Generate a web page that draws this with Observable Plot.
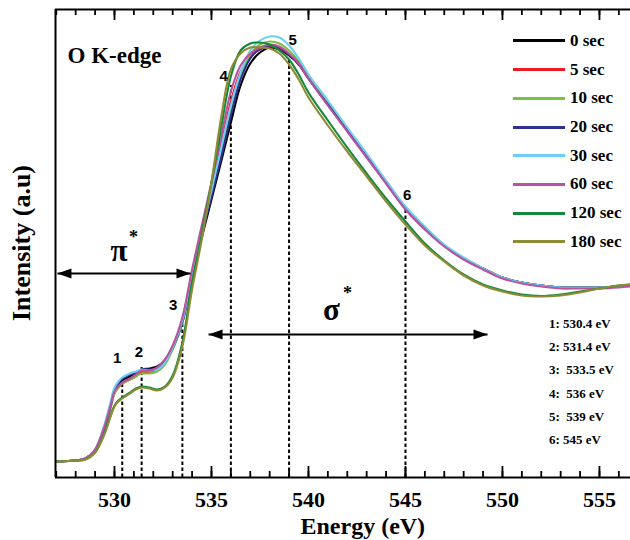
<!DOCTYPE html>
<html><head><meta charset="utf-8">
<script src="https://cdn.jsdelivr.net/npm/d3@7"></script>
<script src="https://cdn.jsdelivr.net/npm/@observablehq/plot@0.6"></script>
<style>
body{margin:0;background:#fff}
#wrap{position:relative;width:630px;height:540px;overflow:hidden;background:#fff}
.lg{position:absolute;font-family:"Liberation Serif","Times New Roman","DejaVu Serif","Noto Serif",serif;font-weight:bold;color:#000}
.lg .row{display:flex;align-items:center;white-space:pre}
</style></head><body><div id="wrap"></div><script>
// ---- data ----
const energies = [527, 528, 528.5, 529, 529.5, 529.8, 530, 530.2, 530.4, 530.8, 531.1, 531.4, 531.8, 532.2, 532.6, 533, 533.5, 534, 534.5, 535, 535.5, 536, 536.5, 537, 537.5, 538, 538.5, 539, 539.5, 540, 541, 542, 543, 544, 545, 546, 547, 548, 549, 550, 551, 552, 553, 554, 555, 556, 556.6];
const seriesNames = ["0 sec", "5 sec", "10 sec", "20 sec", "30 sec", "60 sec", "120 sec", "180 sec"];
const seriesColors = ["#000000", "#ed1c24", "#7ac143", "#2e3192", "#6dcff6", "#b9529f", "#13893d", "#8d8b33"];
const s0   = [16, 17, 19, 27, 51, 72, 87, 93, 97, 101, 104, 108, 109, 111, 117, 129, 155, 200, 240, 278, 316, 355, 392, 414, 425, 430, 428, 422, 413, 399, 373, 347, 321, 295, 269, 249, 232, 219, 209, 200, 195, 192, 190, 190, 190, 191, 192];
const s5   = [16, 17, 19, 27, 50, 70, 85, 90, 94, 98, 101, 105, 105, 107, 115, 130, 158, 205, 248, 290, 333, 376, 406, 421, 428, 431, 429, 423, 414, 400, 374, 348, 322, 296, 270, 249, 232, 219, 209, 200, 195, 192, 190, 190, 190, 191, 192];
const s10  = [16, 17, 19, 27, 50, 70, 84, 90, 94, 98, 101, 104, 104, 106, 113, 128, 155, 202, 245, 285, 326, 368, 402, 423, 433, 436, 434, 427, 416, 401, 375, 349, 322, 296, 270, 249, 232, 219, 209, 200, 195, 192, 190, 190, 190, 191, 192];
const s20  = [16, 17, 19, 27, 51, 72, 88, 94, 99, 103, 105, 108, 108, 109, 116, 130, 156, 201, 242, 281, 320, 362, 398, 419, 429, 432, 430, 423, 414, 399, 373, 347, 321, 295, 269, 249, 232, 219, 209, 200, 195, 192, 190, 190, 190, 191, 192];
const s30  = [16, 17, 19, 28, 54, 76, 90, 96, 100, 104, 106, 108, 107, 108, 115, 130, 157, 204, 246, 287, 330, 372, 405, 427, 437, 441, 440, 432, 419, 403, 377, 350, 324, 297, 271, 251, 233, 220, 209, 200, 195, 192, 190, 190, 190, 191, 192];
const s60  = [16, 17, 19, 28, 52, 72, 86, 91, 95, 99, 103, 107, 107, 110, 118, 132, 160, 208, 252, 295, 340, 386, 412, 424, 430, 433, 431, 424, 414, 399, 372, 346, 320, 294, 268, 248, 231, 218, 208, 199, 194, 191, 189, 189, 189, 190, 191];
const s120 = [16, 17, 18, 25, 45, 62, 72, 77, 80, 85, 89, 91, 90, 88, 91, 102, 135, 195, 243, 295, 350, 401, 427, 434, 435, 433, 427, 418, 403, 385, 357, 330, 304, 279, 256, 234, 217, 203, 193, 187, 183, 181.5, 183, 186, 189, 192, 193];
const s180 = [16, 17, 18, 25, 44, 61, 71, 76, 79, 84, 88, 90, 89, 87, 90, 100, 131, 188, 238, 295, 360, 408, 424, 430, 430, 429, 424, 413, 398, 380, 352, 326, 301, 276, 253, 232, 216, 202, 192, 186, 182, 181, 182, 185, 189, 192, 193];

const peakEnergies = [530.4, 531.4, 533.5, 536, 539, 545];
const peakTops     = [94, 110, 155, 392, 419, 267];
const peakLabels   = ["1", "2", "3", "4", "5", "6"];
const peakLabelE   = [530.14, 531.26, 533.03, 535.63, 539.19, 545.09];
const peakLabelY   = [119, 125, 172, 401, 437, 282];
const peakNotes    = ["1: 530.4 eV", "2: 531.4 eV", "3:  533.5 eV", "4:  536 eV", "5:  539 eV", "6: 545 eV"];

const minorTicks = d3.range(527, 557, 1);
const majorTicks = [530, 535, 540, 545, 550, 555];

const arrows = [
  {name: "π", x1: 527.06, x2: 533.92, y: 204, lx: 530.23, ly: 226, sx: 530.98, sy: 240},
  {name: "σ", x1: 534.85, x2: 549.23, y: 143, lx: 541.19, ly: 167, sx: 542.01, sy: 184}
];

const xDomain = [526.96, 556.6];
const yDomain = [0, 468];

// ---- build ----
const valuesBySeries = [s0, s5, s10, s20, s30, s60, s120, s180];
const rows = seriesNames.flatMap((name, i) => energies.map((e, j) => ({energy: e, intensity: valuesBySeries[i][j], series: name})));
const peaks = peakEnergies.map((e, i) => ({energy: e, top: peakTops[i], label: peakLabels[i], lx: peakLabelE[i], ly: peakLabelY[i]}));

const rightHead = {draw(ctx) { ctx.moveTo(0, 0); ctx.lineTo(-14, -5); ctx.lineTo(-14, 5); ctx.closePath(); }};
const leftHead  = {draw(ctx) { ctx.moveTo(0, 0); ctx.lineTo(14, -5); ctx.lineTo(14, 5); ctx.closePath(); }};

const serif = "Liberation Serif, Times New Roman, DejaVu Serif, Noto Serif, serif";
const sans = "Liberation Sans, Arial, sans-serif";

const plot = Plot.plot({
  width: 630, height: 540,
  marginLeft: 55, marginRight: 0, marginTop: 9, marginBottom: 63,
  x: {domain: xDomain, axis: null},
  y: {domain: yDomain, axis: null},
  color: {domain: seriesNames, range: seriesColors},
  style: {background: "white", overflow: "visible"},
  marks: [
    Plot.ruleX(peaks, {x: "energy", y1: 0, y2: "top", stroke: "black", strokeWidth: 2, strokeDasharray: "3.5,2.5"}),
    Plot.line(rows, {x: "energy", y: "intensity", z: "series", stroke: "series", strokeWidth: 2.1, curve: "catmull-rom"}),
    Plot.text(peaks, {x: "lx", y: "ly", text: "label", fontFamily: sans, fontWeight: "bold", fontSize: 15, fill: "black"}),
    Plot.link(arrows, {x1: "x1", x2: "x2", y1: "y", y2: "y", stroke: "black", strokeWidth: 2}),
    Plot.dot(arrows, {x: "x2", y: "y", symbol: rightHead, fill: "black", stroke: null}),
    Plot.dot(arrows, {x: "x1", y: "y", symbol: leftHead, fill: "black", stroke: null}),
    Plot.text(arrows, {x: "lx", y: "ly", text: "name", fontFamily: serif, fontWeight: "bold", fontSize: 31, fill: "black"}),
    Plot.text(arrows, {x: "sx", y: "sy", text: () => "*", fontFamily: serif, fontWeight: "bold", fontSize: 18, fill: "black"}),
    Plot.text(["O K-edge"], {x: () => 527.58, y: () => 422, text: d => d, textAnchor: "start", lineAnchor: "middle", fontFamily: serif, fontWeight: "bold", fontSize: 23, fill: "black"}),
    Plot.ruleX([xDomain[0]], {stroke: "black", strokeWidth: 2}),
    Plot.ruleY(yDomain, {stroke: "black", strokeWidth: 2}),
    Plot.ruleX(minorTicks, {x: d => d, insetTop: 462, stroke: "black", strokeWidth: 1.8}),
    Plot.ruleX(majorTicks, {x: d => d, insetTop: 457, stroke: "black", strokeWidth: 1.8}),
    Plot.ruleX(minorTicks, {x: d => d, insetBottom: 462, stroke: "black", strokeWidth: 1.8}),
    Plot.ruleX(majorTicks, {x: d => d, insetBottom: 457, stroke: "black", strokeWidth: 1.8}),
    Plot.text(majorTicks, {x: d => d, frameAnchor: "bottom", dy: 22, text: d => String(d), textAnchor: "middle", lineAnchor: "middle", fontFamily: serif, fontWeight: "bold", fontSize: 22, fill: "black"}),
    Plot.text(["Energy (eV)"], {x: () => 542.8, frameAnchor: "bottom", dy: 49, text: d => d, textAnchor: "middle", lineAnchor: "middle", fontFamily: serif, fontWeight: "bold", fontSize: 24, fill: "black"}),
    Plot.text(["Intensity (a.u)"], {y: () => 234.5, frameAnchor: "left", dx: -33.5, rotate: -90, text: d => d, textAnchor: "middle", lineAnchor: "middle", fontFamily: serif, fontWeight: "bold", fontSize: 26, fill: "black"})
  ]
});

const wrap = document.getElementById("wrap");
wrap.appendChild(plot);

const lg = document.createElement("div");
lg.className = "lg";
lg.style.left = "513px";
lg.style.top = "26.6px";
seriesNames.forEach((name, i) => {
  const row = document.createElement("div");
  row.className = "row";
  row.style.height = "28.7px";
  const sw = document.createElement("span");
  sw.style.cssText = `display:inline-block;width:52px;height:3px;background:${seriesColors[i]}`;
  const tx = document.createElement("span");
  tx.textContent = name;
  tx.style.cssText = "margin-left:5px;font-size:17px";
  row.appendChild(sw); row.appendChild(tx);
  lg.appendChild(row);
});
wrap.appendChild(lg);

const pn = document.createElement("div");
pn.className = "lg";
pn.style.left = "549px";
pn.style.top = "312.7px";
peakNotes.forEach(t => {
  const row = document.createElement("div");
  row.className = "row";
  row.style.height = "23.1px";
  row.style.fontSize = "13px";
  row.textContent = t;
  pn.appendChild(row);
});
wrap.appendChild(pn);
</script></body></html>
